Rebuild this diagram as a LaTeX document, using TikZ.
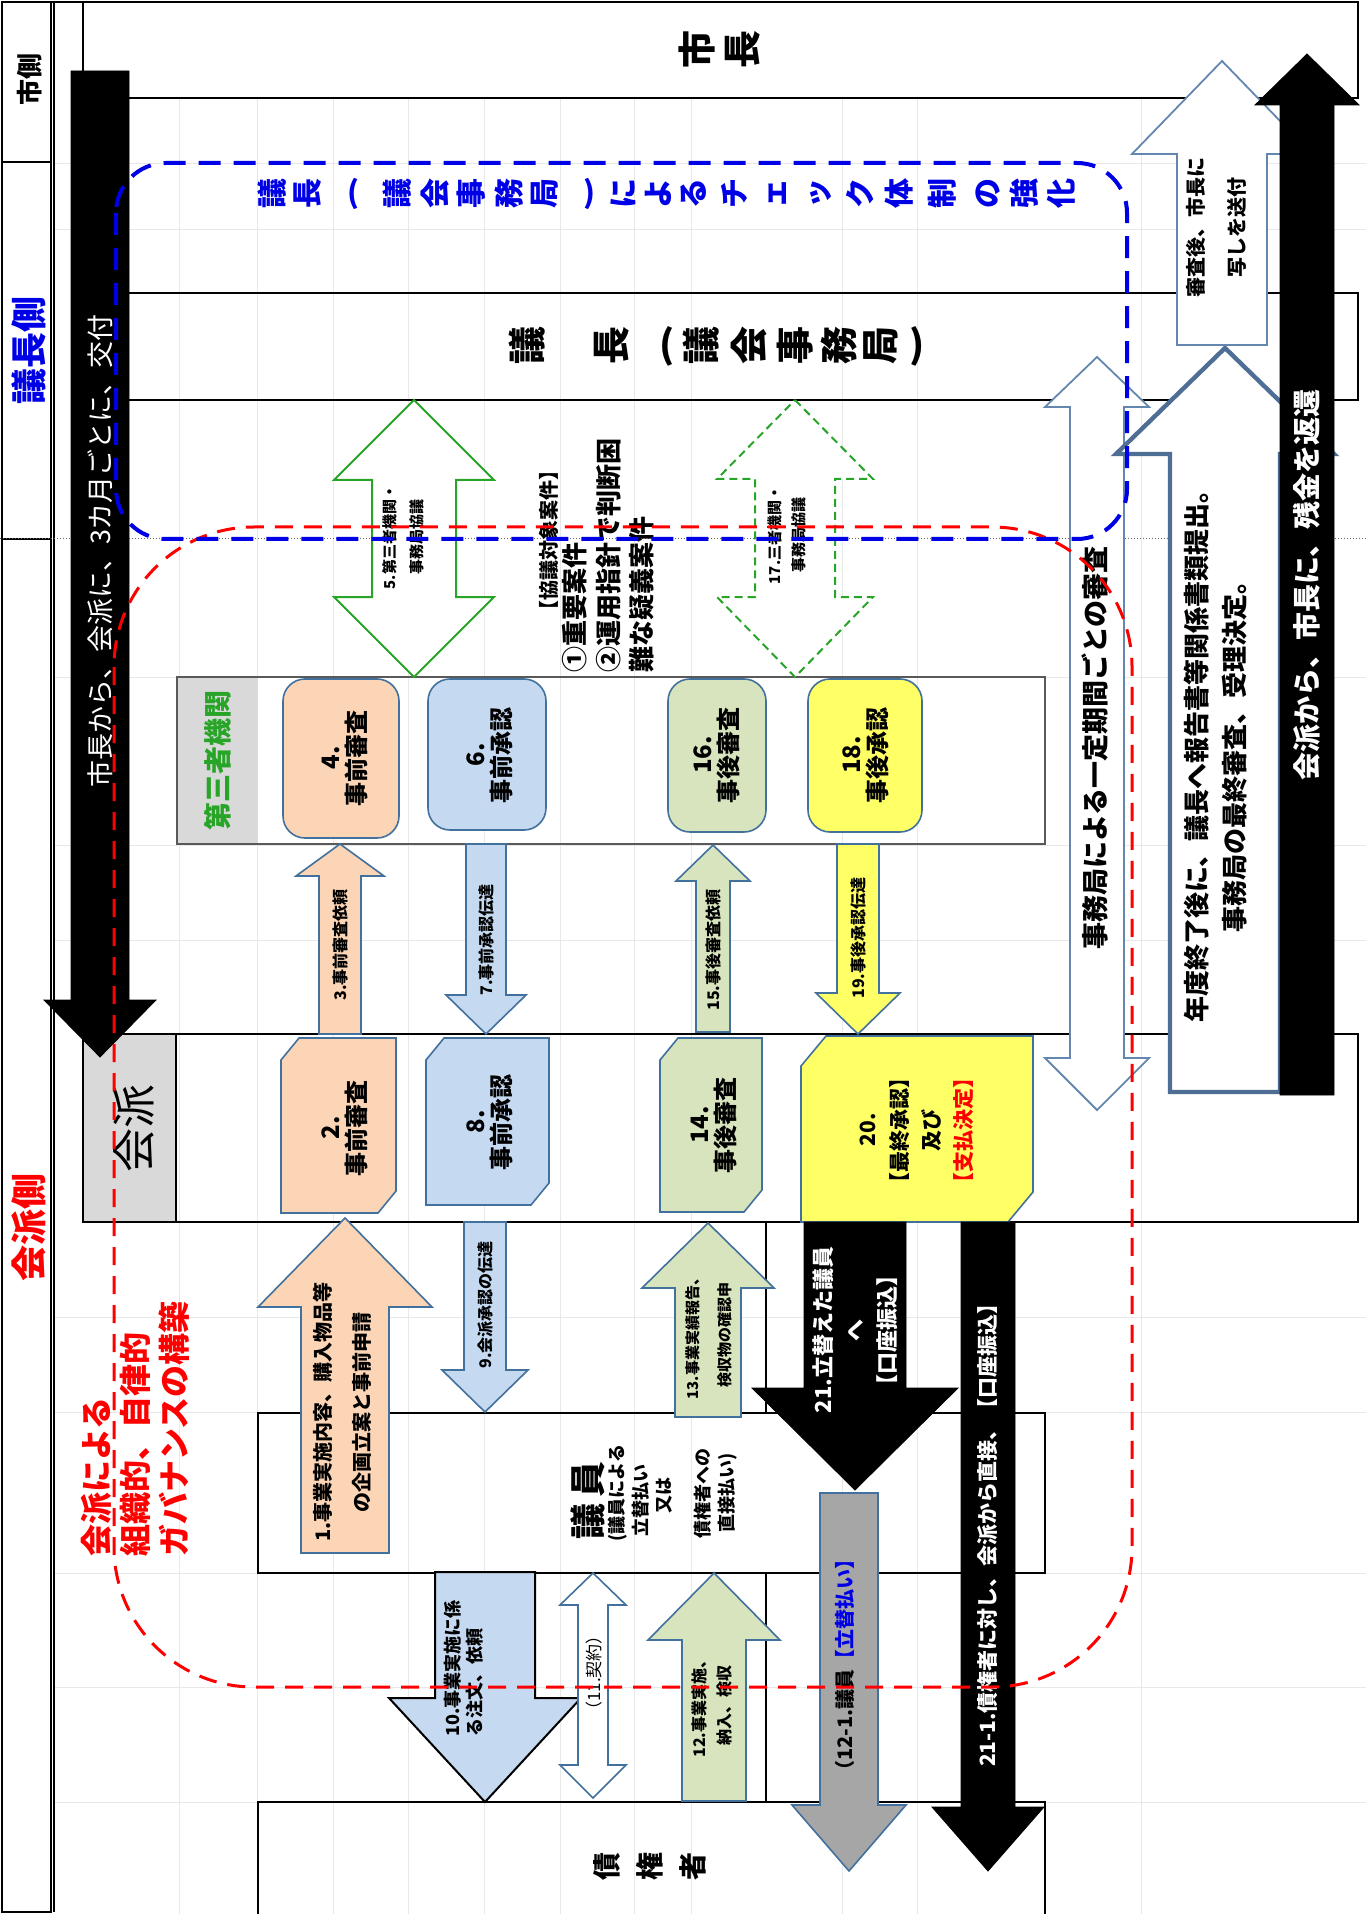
\documentclass[tikz,border=0pt]{standalone}
\usepackage{fontspec}
\setmainfont{Noto Sans CJK JP}
\definecolor{cPeach}{RGB}{251,213,181}
\definecolor{cBlue}{RGB}{197,217,241}
\definecolor{cOlive}{RGB}{215,228,189}
\definecolor{cYellow}{RGB}{255,255,102}
\definecolor{cGray}{RGB}{166,166,166}
\definecolor{cSteel}{RGB}{65,113,156}
\definecolor{cSteelL}{RGB}{100,135,175}
\definecolor{cThick}{RGB}{79,110,150}
\definecolor{cGreen}{RGB}{40,165,40}
\definecolor{cTBlue}{RGB}{0,0,230}
\newcommand\fsz[2]{\fontsize{#1}{#2}\selectfont}
% #2 cx, #3 tip y, #4 head base y, #5 shaft half, #6 head half, #7 tail y
\newcommand\blockarrow[7][]{\draw[#1] (#2,#3) -- ({#2+#6},#4) -- ({#2+#5},#4) -- ({#2+#5},#7) -- ({#2-#5},#7) -- ({#2-#5},#4) -- ({#2-#6},#4) -- cycle;}
% #2 cx, #3 tip1, #4 base1, #5 base2, #6 tip2, #7 shaft half, #8 head half
\newcommand\dblarrow[8][]{\draw[#1] (#2,#3) -- ({#2+#8},#4) -- ({#2+#7},#4) -- ({#2+#7},#5) -- ({#2+#8},#5) -- (#2,#6) -- ({#2-#8},#5) -- ({#2-#7},#5) -- ({#2-#7},#4) -- ({#2-#8},#4) -- cycle;}
% #2 x1, #3 y1, #4 x2, #5 y2, #6 cut x, #7 cut y
\newcommand\snipbox[7][]{\draw[#1] (#2,{#3+#7}) -- ({#2+#6},#3) -- (#4,#3) -- (#4,{#5-#7}) -- ({#4-#6},#5) -- (#2,#5) -- cycle;}
\begin{document}
\begin{tikzpicture}[x=0.5pt,y=-0.5pt,
  rt/.style={rotate=90,inner sep=0pt,align=center},
  shp/.style={draw=cSteel,line width=0.8pt},
  frm/.style={draw=black,line width=0.6pt},
  gridl/.style={draw=black!9,line width=0.4pt}]
\useasboundingbox (0,0) rectangle (1366,1914);
\fill[white] (0,0) rectangle (1366,1914);
% faint grid
\foreach \gx in {179,257,333,408,484,560,634,691,842,917,1141}
  \draw[gridl] (\gx,98) -- (\gx,1914);
\foreach \gy in {163,229,677,845,940,1317,1412,1573,1687,1802}
  \draw[gridl] (54,\gy) -- (1366,\gy);
% frames
\draw[frm] (2,2) rectangle (51,1912);
\draw[frm] (2,162) -- (51,162);
\draw[frm] (2,539) -- (51,539);
\draw[frm] (54,2) -- (54,1912);
\draw[frm] (51,2) -- (83,2);
\draw[frm] (83,2) rectangle (1358,98);
\draw[frm] (83,293) rectangle (1358,400);
\draw[frm] (83,98) -- (83,1034);
\draw[black!60,densely dotted,line width=0.5pt] (0,539) -- (1366,539);
\fill[black!15] (83,1034) rectangle (176,1222);
\draw[frm] (176,1034) -- (176,1222);
\draw[draw=black,line width=1.1pt] (83,1034) rectangle (1358,1222);
\fill[black!15] (177,677) rectangle (258,844);
\draw[black!65,line width=0.9pt] (177,677) rectangle (1045,844);
\draw[frm] (258,1413) rectangle (1045,1573);
\draw[frm] (258,1914) -- (258,1802) -- (1045,1802) -- (1045,1914);
\draw[frm] (766,1222) -- (766,1413);
\draw[frm] (766,1573) -- (766,1802);
% third party boxes
\draw[shp,fill=cPeach,rounded corners=11pt] (283,679) rectangle (399,838);
\draw[shp,fill=cBlue,rounded corners=11pt] (428,679) rectangle (546,830);
\draw[shp,fill=cOlive,rounded corners=11pt] (668,679) rectangle (766,832);
\draw[shp,fill=cYellow,rounded corners=11pt] (808,679) rectangle (922,832);
% kaiha boxes
\snipbox[shp,fill=cPeach]{281}{1038}{396}{1213}{18}{22}
\snipbox[shp,fill=cBlue]{426}{1038}{549}{1205}{18}{22}
\snipbox[shp,fill=cOlive]{660}{1038}{762}{1212}{18}{22}
\snipbox[shp,fill=cYellow]{801}{1036}{1033}{1222}{25}{30}
% green double arrows
\dblarrow[draw=cGreen,line width=1pt,fill=white]{414}{400}{480}{597}{677}{42}{80}
\dblarrow[draw=cGreen,line width=1pt,fill=white,dash pattern=on 4pt off 2.5pt]{795}{400}{479}{597}{677}{40}{78}
% arrows third party <-> kaiha
\blockarrow[shp,fill=cPeach]{340}{844}{876}{21}{44}{1034}
\blockarrow[shp,fill=cBlue]{486}{1034}{995}{20}{40}{844}
\blockarrow[shp,fill=cOlive]{713}{845}{881}{17}{37}{1032}
\blockarrow[shp,fill=cYellow]{858}{1034}{993}{21}{42}{844}
% arrows kaiha <-> giin
\blockarrow[shp,fill=cPeach]{345}{1218}{1307}{44}{87}{1553}
\blockarrow[shp,fill=cBlue]{485}{1412}{1370}{21}{43}{1222}
\blockarrow[shp,fill=cOlive]{708}{1223}{1288}{33}{66}{1417}
\blockarrow[draw=black,fill=black]{855}{1490}{1388}{51}{103}{1222}
\blockarrow[shp,fill=cGray]{849}{1871}{1805}{29}{57}{1493}
\blockarrow[draw=black,fill=black]{988}{1871}{1807}{27}{56}{1222}
% giin <-> creditor
\blockarrow[draw=black,line width=1pt,fill=cBlue]{485}{1802}{1698}{50}{96}{1572}
\dblarrow[shp,fill=white]{593}{1573}{1605}{1765}{1798}{15}{33}
\blockarrow[shp,fill=cOlive]{714}{1573}{1640}{32}{66}{1801}
% right side arrows
\dblarrow[draw=cSteelL,line width=0.9pt,fill=white]{1097}{357}{407}{1058}{1110}{27}{52}
\blockarrow[draw=cThick,line width=2.2pt,fill=white]{1225}{348}{454}{55}{109}{1092}
\blockarrow[draw=cSteelL,line width=0.9pt,fill=white]{1222}{61}{154}{45}{90}{345}
\blockarrow[draw=black,fill=black]{1307}{54}{105}{27}{52}{1095}
% left big arrow
\blockarrow[draw=black,fill=black]{100}{1057}{1000}{29}{56}{71}

% ---------- texts ----------
\node[rt,font=\fsz{13}{15}\bfseries] (lbCity) at (30,80) {市側};
\node[rt,font=\fsz{18}{20}\bfseries,text=cTBlue] (lbChair) at (29,351) {議長側};
\node[rt,font=\fsz{18}{20}\bfseries,text=red] (lbKaiha) at (29,1227) {会派側};
\node[rt,font=\fsz{19}{21}\bfseries] (my1) at (697,50) {市};
\node[rt,font=\fsz{19}{21}\bfseries] (my2) at (743,50) {長};
% blue title
\foreach \ch/\xx [count=\i] in {議/272,長/308,議/397,会/435,事/471,務/509,局/545,に/623,よ/658,る/694,チ/734,ェ/778,ッ/821,ク/860,体/899,制/942,の/988,強/1024,化/1061}
  \node[rt,font=\fsz{15}{16}\bfseries,text=cTBlue] (bt\i) at (\xx,194) {\ch};
\node[inner sep=0pt,font=\fsz{15}{16}\bfseries,text=cTBlue] (btpa) at (353,194) {(};
\node[inner sep=0pt,font=\fsz{15}{16}\bfseries,text=cTBlue] (btpb) at (589,194) {)};
% chair label
\foreach \ch/\xx [count=\i] in {議/527,長/612,議/701,会/749,事/795,務/839,局/881}
  \node[rt,font=\fsz{19}{21}\bfseries] (ch\i) at (\xx,346) {\ch};
\node[inner sep=0pt,font=\fsz{19}{21}\bfseries] (chpa) at (667,346) {(};
\node[inner sep=0pt,font=\fsz{19}{21}\bfseries] (chpb) at (917,346) {)};
% arrows texts
\node[rt,font=\fsz{13.5}{16},text=white] (tL) at (100,551) {市長から、会派に、3カ月ごとに、交付};
\node[rt,font=\fsz{14}{16}\bfseries,text=white] (tR) at (1307,585) {会派から、市長に、残金を返還};
\node[rt,font=\fsz{10}{20.5}\bfseries] (tSend) at (1216,228) {審査後、市長に\\写しを送付};
\node[rt,font=\fsz{13}{19}\bfseries] (tYear) at (1216,750) {年度終了後に、議長へ報告書等関係書類提出。\\事務局の最終審査、受理決定。};
\node[rt,font=\fsz{13.5}{15}\bfseries] (tCheck) at (1095,748) {事務局による一定期間ごとの審査};
\node[rt,font=\fsz{7.5}{13.5}\bfseries] (t5) at (403,537) {5.第三者機関・\\事務局協議};
\node[rt,font=\fsz{7.5}{12}\bfseries] (t17) at (787,535) {17.三者機関・\\事務局協議};
\node[rt,font=\fsz{10}{12}\bfseries] (kq1) at (549,540) {【協議対象案件】};
\node[rt,anchor=west,font=\fsz{13}{15}\bfseries] (kq2) at (575,673) {①重要案件};
\node[rt,anchor=west,font=\fsz{13}{15}\bfseries] (kq3) at (609,673) {②運用指針で判断困};
\node[rt,anchor=west,font=\fsz{13}{15}\bfseries] (kq4) at (642,673) {難な疑義案件};
\node[rt,font=\fsz{14}{16}\bfseries,text=cGreen] (tp) at (218,760) {第三者機関};
\node[rt,font=\fsz{12}{13}\bfseries] (n4) at (345,758) {4.\\事前審査};
\node[rt,font=\fsz{12}{13}\bfseries] (n6) at (490,755) {6.\\事前承認};
\node[rt,font=\fsz{12}{13}\bfseries] (n16) at (717,755) {16.\\事後審査};
\node[rt,font=\fsz{12}{13}\bfseries] (n18) at (866,755) {18.\\事後承認};
\node[rt,font=\fsz{8}{10}\bfseries] (t3) at (340,945) {3.事前審査依頼};
\node[rt,font=\fsz{8}{10}\bfseries] (t7) at (486,940) {7.事前承認伝達};
\node[rt,font=\fsz{8}{10}\bfseries] (t15) at (713,950) {15.事後審査依頼};
\node[rt,font=\fsz{8}{10}\bfseries] (t19) at (858,938) {19.事後承認伝達};
\node[rt,font=\fsz{22}{26}] (kh) at (134,1128) {会派};
\node[rt,font=\fsz{12}{13}\bfseries] (p2) at (345,1128) {2.\\事前審査};
\node[rt,font=\fsz{12}{13}\bfseries] (p8) at (490,1122) {8.\\事前承認};
\node[rt,font=\fsz{12}{13}\bfseries] (p14) at (714,1125) {14.\\事後審査};
\node[rt,font=\fsz{10.5}{16}\bfseries] (p20) at (917,1130) {20.\\【最終承認】\\及び\\{\color{red}【支払決定】}};
\node[rt,font=\fsz{10}{19.5}\bfseries] (t1) at (342,1412) {1.事業実施内容、購入物品等\\の企画立案と事前申請};
\node[rt,font=\fsz{8}{10}\bfseries] (t9) at (485,1305) {9.会派承認の伝達};
\node[rt,font=\fsz{7.5}{16}\bfseries] (t13) at (709,1335) {13.事業実績報告、\\検収物の確認申};
\node[rt,font=\fsz{11}{16}\bfseries,text=white] (t21) at (855,1330) {21.立替えた議員\\へ\\【口座振込】};
\node[rt,font=\fsz{10.5}{12}\bfseries,text=white] (t211) at (988,1530) {21-1.債権者に対し、会派から直接、【口座振込】};
\node[rt,font=\fsz{10}{12}\bfseries] (t121) at (845,1665) {（12-1.議員{\color{cTBlue}【立替払い】}};
\node[rt,anchor=west,align=left,font=\fsz{9}{11}\bfseries] (t10) at (464,1737) {10.事業実施に係\\る注文、依頼};
\node[rt,font=\fsz{8.5}{10}] (t11) at (594,1673) {（11.契約）};
\node[rt,font=\fsz{8}{12.5}\bfseries] (t12) at (712,1705) {12.事業実施、\\納入、検収};
\node[rt,anchor=west,align=left,font=\fsz{16}{19.5}\bfseries,text=red] (tgov) at (135,1557) {会派による\\組織的、自律的\\ガバナンスの構築};
% giin box
\node[rt,font=\fsz{18}{20}\bfseries] (giin) at (588,1500) {議\hspace{3pt}員};
\node[rt,font=\fsz{9}{10}\bfseries] (g1) at (618,1493) {(議員による};
\node[rt,font=\fsz{9}{10}\bfseries] (g2) at (641,1500) {立替払い};
\node[rt,font=\fsz{9}{10}\bfseries] (g3) at (664,1495) {又は};
\node[rt,font=\fsz{9}{10}\bfseries] (g4) at (703,1493) {債権者への};
\node[rt,font=\fsz{9}{10}\bfseries] (g5) at (728,1493) {直接払い)};
% creditor
\node[rt,font=\fsz{14}{16}\bfseries] (cr1) at (607,1866) {債};
\node[rt,font=\fsz{14}{16}\bfseries] (cr2) at (650,1866) {権};
\node[rt,font=\fsz{14}{16}\bfseries] (cr3) at (693,1866) {者};
% dashed enclosures on top
\draw[red,line width=1.5pt,dash pattern=on 9pt off 5.5pt,rounded corners=70pt] (114,527) rectangle (1132,1687);
\draw[cTBlue,line width=2pt,dash pattern=on 11pt off 6.5pt,rounded corners=25pt] (116,163) rectangle (1127,539);
\end{tikzpicture}
\end{document}
